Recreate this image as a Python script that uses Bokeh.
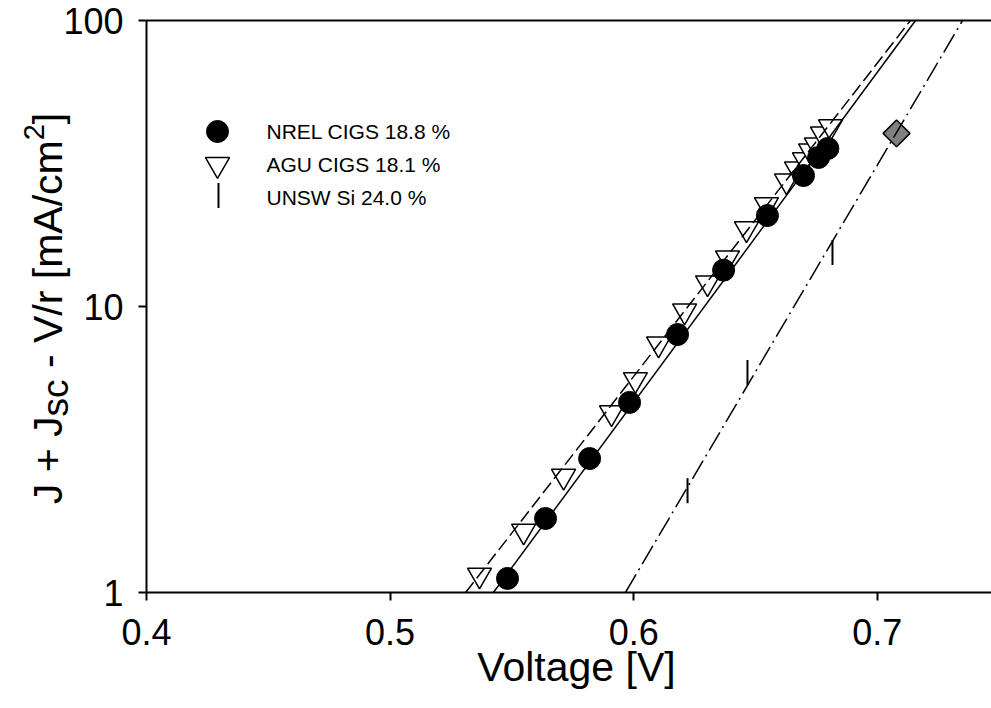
import numpy as np
from bokeh.plotting import figure
from bokeh.models import Range1d, FixedTicker, Label, LinearAxis, CustomJSTickFormatter
from bokeh.embed import file_html
from bokeh.resources import INLINE

# ---------------- data ----------------
nrel_v = [0.5482, 0.5638, 0.5819, 0.5983, 0.6180, 0.6369, 0.6549, 0.6697, 0.6759, 0.6797]
nrel_j = [1.12, 1.815, 2.94, 4.62, 7.98, 13.4, 20.8, 28.7, 33.2, 35.7]

agu_v = [0.5367, 0.5548, 0.5712, 0.5909, 0.6007, 0.6102, 0.6209, 0.6303, 0.6385,
         0.6463, 0.6545, 0.6627, 0.6668, 0.6701, 0.6726, 0.6750, 0.6775, 0.6808]
agu_j = [1.15, 1.64, 2.55, 4.25, 5.55, 7.40, 9.65, 12.1, 14.8,
         18.7, 22.7, 27.5, 30.3, 32.6, 35.0, 36.7, 40.1, 42.5]

unsw_v = [0.6221, 0.6467, 0.6816]
unsw_j = [2.27, 5.88, 15.45]

unsw_end_v = [0.7079]
unsw_end_j = [40.3]

nrel_fit_v = [0.5424, 0.7157]
nrel_fit_j = [1.0, 100.0]
agu_fit_v = [0.5310, 0.7136]
agu_fit_j = [1.0, 100.0]
unsw_fit_v = [0.5966, 0.7350]
unsw_fit_j = [1.0, 100.0]

x_ticks = [0.4, 0.5, 0.6, 0.7]
y_ticks = [1, 10, 100]

legend_labels = ["NREL CIGS 18.8 %", "AGU CIGS 18.1 %", "UNSW Si 24.0 %"]

FONT = "Liberation Sans"
W, H = 991, 708

# ---------------- geometry (canvas px of the plotting box) ----------------
FL, FT, FB = 146, 20, 592          # left, top, bottom of the data box
PX_PER_V = 2436.0                  # pixels per volt
PX_PER_DEC = (FB - FT) / 2.0       # pixels per decade
XMIN, XMAX, YMIN, YMAX = 0.4, 0.4 + (W - FL) / PX_PER_V, 1.0, 100.0

xs = XMIN - FL / PX_PER_V
xe = XMIN + (W - FL) / PX_PER_V
ly_top = 2.0 + FT / PX_PER_DEC
ly_bot = -(H - FB) / PX_PER_DEC

def px2v(px):
    return xs + px / PX_PER_V

def py2j(py):
    return 10 ** (ly_top - py / PX_PER_DEC)

p = figure(width=W, height=H, output_backend="svg", toolbar_location=None,
           x_range=Range1d(xs, xe), y_range=Range1d(10 ** ly_bot, 10 ** ly_top),
           y_axis_type="log", min_border=0)
p.outline_line_color = None
p.xgrid.visible = False
p.ygrid.visible = False
p.background_fill_color = "white"
p.border_fill_color = "white"

for ax in (p.xaxis[0], p.yaxis[0]):
    ax.axis_line_width = 2
    ax.axis_line_color = "black"
    ax.major_tick_line_width = 2
    ax.major_tick_line_color = "black"
    ax.major_tick_out = 8
    ax.major_tick_in = 0
    ax.minor_tick_out = 0
    ax.minor_tick_in = 0
    ax.major_label_text_font = FONT
    ax.major_label_text_font_size = "36px"
    ax.major_label_text_color = "black"

p.xaxis.fixed_location = YMIN
p.xaxis.bounds = (XMIN, XMAX)
p.xaxis.ticker = FixedTicker(ticks=x_ticks)
p.xaxis.major_label_standoff = 18

p.yaxis.fixed_location = XMIN
p.yaxis.bounds = (YMIN, YMAX)
p.yaxis.ticker = FixedTicker(ticks=y_ticks)
p.yaxis.formatter = CustomJSTickFormatter(code="return tick.toFixed(0);")
p.yaxis.major_label_standoff = 15

# top border line of the box (an axis without ticks or labels)
top_ax = LinearAxis(fixed_location=YMAX, bounds=(XMIN, XMAX), axis_line_width=2,
                    axis_line_color="black", major_tick_out=0, major_tick_in=0,
                    minor_tick_out=0, minor_tick_in=0, major_label_text_font_size="0px",
                    ticker=FixedTicker(ticks=[]))
p.add_layout(top_ax, "above")

# ---------------- markers ----------------
p.scatter(unsw_end_v, unsw_end_j, marker="square", angle=np.pi / 4, size=19,
          fill_color="#808080", line_color="black", line_width=1.5)
p.scatter(unsw_v, unsw_j, marker="dash", angle=np.pi / 2, size=25,
          line_color="black", line_width=2)
p.scatter(agu_v, agu_j, marker="inverted_triangle", size=24,
          fill_color="white", line_color="black", line_width=1.5)
p.scatter(nrel_v, nrel_j, marker="circle", size=22,
          fill_color="black", line_color="black")

# ---------------- fit lines ----------------
p.line(nrel_fit_v, nrel_fit_j, line_color="black", line_width=1.5)
p.line(agu_fit_v, agu_fit_j, line_color="black", line_width=1.5, line_dash="13 5")
p.line(unsw_fit_v, unsw_fit_j, line_color="black", line_width=1.5, line_dash="21 5 2 5")

# ---------------- legend (manual) ----------------
leg_x_marker = 217
leg_x_text = 266
leg_rows = [131, 164, 197]
p.scatter([px2v(leg_x_marker)], [py2j(leg_rows[0])], marker="circle", size=22,
          fill_color="black", line_color="black")
p.scatter([px2v(leg_x_marker)], [py2j(leg_rows[1])], marker="inverted_triangle", size=24,
          fill_color="white", line_color="black", line_width=1.5)
p.scatter([px2v(leg_x_marker + 1)], [py2j(leg_rows[2] - 2)], marker="dash", angle=np.pi / 2,
          size=25, line_color="black", line_width=2)
for lab, row in zip(legend_labels, leg_rows):
    p.add_layout(Label(x=px2v(leg_x_text), y=py2j(row), text=lab, text_font=FONT,
                       text_font_size="21px", text_baseline="middle", text_align="left",
                       text_color="black"))

# ---------------- axis titles ----------------
p.add_layout(Label(x=px2v(576), y=py2j(666), text="Voltage [V]", text_font=FONT,
                   text_font_size="41px", text_align="center", text_baseline="alphabetic",
                   text_color="black"))

# y title: J + J_sc - V/r [mA/cm^2], rotated, built from pieces (reading upward)
BX = 47          # baseline x (canvas px)
main_fs, sub_fs, sup_fs = 41, 37, 29
pieces = [
    ("J + J", main_fs, 0, 2140 * main_fs / 1000.0),
    ("sc", sub_fs, 8, 1000 * sub_fs / 1000.0),
    (None, main_fs, 0, 278 * main_fs / 1000.0),   # space
    ("- V/r [mA/cm", main_fs, 0, 5556 * main_fs / 1000.0),
    ("2", sup_fs, -14, 556 * sup_fs / 1000.0),
    ("]", main_fs, 0, 278 * main_fs / 1000.0),
]
total = sum(w for _, _, _, w in pieces)
cur = 308 + total / 2.0          # bottom start so that the title is centred on the box
for txt, fs, shift, w in pieces:
    if txt is not None:
        p.add_layout(Label(x=px2v(BX + shift), y=py2j(cur), text=txt, angle=np.pi / 2,
                           text_font=FONT, text_font_size=f"{fs}px", text_align="left",
                           text_baseline="alphabetic", text_color="black"))
    cur -= w

open("out.html", "w").write(file_html(p, INLINE))
